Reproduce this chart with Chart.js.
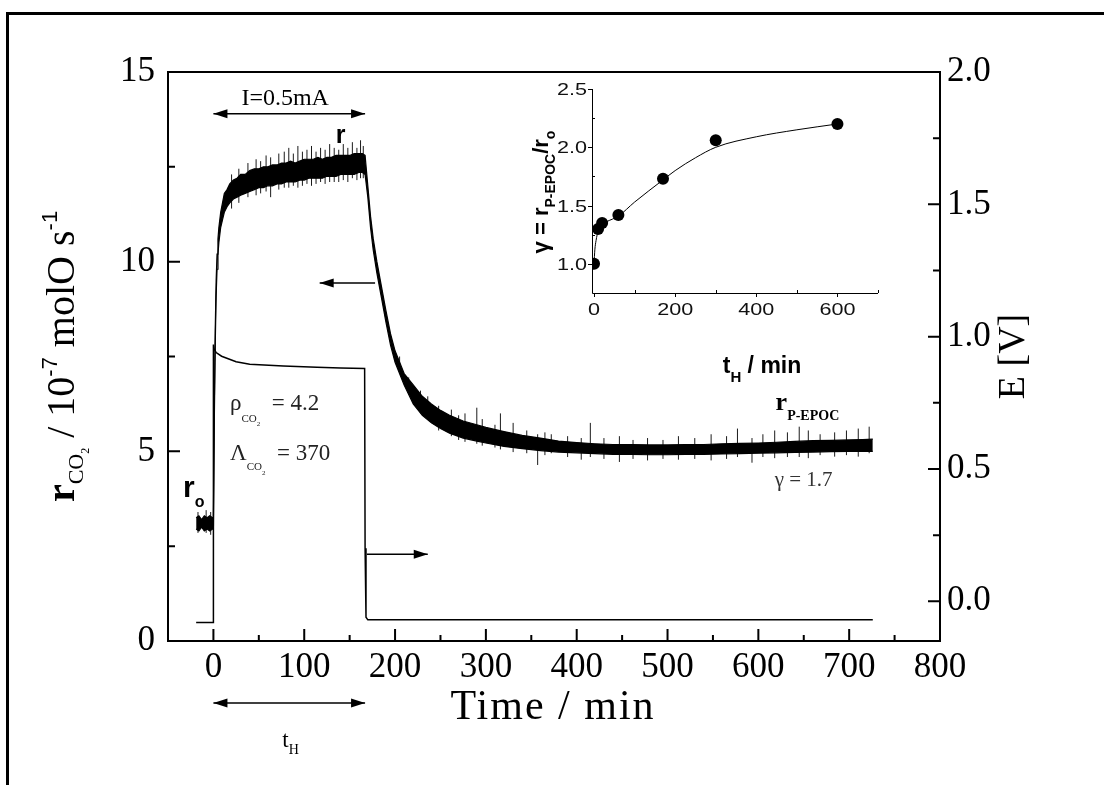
<!DOCTYPE html>
<html><head><meta charset="utf-8">
<script src="https://cdn.jsdelivr.net/npm/chart.js@4.4.0/dist/chart.umd.min.js"></script>
<style>
html,body{margin:0;padding:0;background:#fff;}
#wrap{position:relative;width:1104px;height:785px;overflow:hidden;background:#fff;}
#frame{position:absolute;left:6px;top:12px;width:2000px;height:2000px;border-top:3px solid #000;border-left:3px solid #000;}
#main{position:absolute;left:0;top:0;}
#inset{position:absolute;left:520px;top:70px;}
</style></head><body>
<div id="wrap"><div id="frame"></div>
<canvas id="main" width="1104" height="785"></canvas>
<canvas id="inset" width="380" height="320"></canvas>
</div>
<script>
// ---------- data ----------
const xTicks = [0,100,200,300,400,500,600,700,800];
const xMinor = [50,150,250,350,450,550,650,750];
const rTicks = [0,5,10,15];
const rMinor = [2.5,7.5,12.5];
const eTicks = [0,0.5,1.0,1.5,2.0];
const eMinor = [0.25,0.75,1.25,1.75];

// r_CO2 trace: core noise band (upper / lower envelope)
const tTime  = [-19,-16,-13,-10,-7,-4,-1,0,1,2,3,4,5,6,8,10,12,15,18,22,26,30,35,40,45,50,55,60,65,70,75,80,85,90,95,100,105,110,115,120,125,130,135,140,145,150,155,160,164,167,170,173,176,180,185,190,195,200,210,220,230,240,250,260,275,290,300,320,340,360,380,400,420,440,460,480,500,520,540,560,580,600,620,640,660,680,700,715,726];
const rUpper = [3.25,3.3,3.2,3.3,3.25,3.3,3.25,3.25,6.2,8.2,9.5,10.2,10.6,10.9,11.3,11.55,11.8,11.9,12.05,12.15,12.2,12.3,12.3,12.4,12.45,12.45,12.5,12.5,12.55,12.55,12.6,12.6,12.65,12.6,12.65,12.7,12.7,12.7,12.75,12.7,12.75,12.75,12.8,12.8,12.8,12.8,12.85,12.85,12.85,12.8,12.0,11.2,10.6,10.0,9.35,8.7,8.1,7.65,7.05,6.75,6.45,6.25,6.08,5.95,5.8,5.7,5.63,5.52,5.42,5.35,5.27,5.23,5.2,5.18,5.18,5.17,5.17,5.18,5.18,5.2,5.21,5.22,5.24,5.26,5.28,5.29,5.3,5.31,5.32];
const rLower = [2.95,2.9,3.0,2.9,2.95,2.9,2.95,2.95,5.8,7.8,9.1,9.8,10.2,10.5,10.9,11.1,11.3,11.45,11.55,11.65,11.7,11.75,11.8,11.85,11.9,11.95,11.95,12.0,12.0,12.05,12.05,12.1,12.1,12.1,12.15,12.15,12.2,12.2,12.2,12.2,12.25,12.25,12.25,12.3,12.3,12.3,12.3,12.35,12.35,12.3,11.7,10.9,10.3,9.7,9.05,8.4,7.8,7.35,6.75,6.25,5.95,5.75,5.6,5.48,5.35,5.27,5.22,5.13,5.07,5.02,4.98,4.96,4.94,4.92,4.92,4.91,4.91,4.92,4.92,4.93,4.94,4.95,4.96,4.97,4.98,4.99,5.0,5.0,5.0];
// r_CO2 trace: individual noise spikes (time, top, bottom)
const spikeTime = [-17,-8,-3,20,28,38,47,52,58,63,72,78,83,88,93,98,103,108,113,118,123,128,133,138,143,148,153,158,162,165,205,215,228,236,248,262,270,277,290,296,310,316,330,345,357,365,372,390,405,415,430,447,462,478,495,512,530,548,565,577,593,605,618,632,645,655,668,684,697,710,722];
const spikeTop  = [3.4,3.45,3.4,12.3,12.45,12.6,12.7,12.65,12.8,12.75,12.85,12.9,13.0,12.85,13.05,12.9,12.95,13.05,12.9,13.0,12.95,13.1,13.0,12.95,13.1,13.0,13.15,13.0,13.2,13.05,7.5,6.95,6.6,6.45,6.2,6.1,5.95,6.0,6.15,5.85,5.7,6.0,5.75,5.55,5.45,5.5,5.45,5.4,5.35,5.75,5.35,5.4,5.3,5.35,5.3,5.4,5.35,5.45,5.4,5.6,5.35,5.45,5.55,5.5,5.65,5.55,5.45,5.5,5.55,5.6,5.65];
const spikeBot  = [2.85,2.85,2.8,11.4,11.55,11.7,11.75,11.8,11.85,11.7,11.9,11.95,11.95,12.0,11.95,12.0,12.05,12.0,12.05,12.1,12.05,12.1,12.1,12.1,12.15,12.1,12.2,12.15,12.2,12.2,7.1,6.5,6.0,5.85,5.55,5.4,5.3,5.25,5.2,5.15,5.1,5.05,4.98,4.95,4.64,4.9,4.95,4.85,4.78,4.85,4.8,4.72,4.8,4.76,4.8,4.78,4.8,4.76,4.8,4.85,4.7,4.85,4.82,4.85,4.85,4.82,4.9,4.86,4.9,4.86,4.95];

// cell potential E trace
const eTime = [-19,0,0,0.7,3,9,25,40,77,114,140,166.5,167,168,170,726];
const eVolt = [-0.08,-0.08,0.97,0.955,0.94,0.926,0.905,0.896,0.889,0.884,0.882,0.88,0.2,-0.06,-0.07,-0.07];

// inset: gamma vs t_H
const gTime = [0,10,20,60,170,300,600];
const gVal  = [1.0,1.3,1.35,1.42,1.73,2.06,2.2];
const fitTime = [0,2,5,10,20,30,60,100,170,200,250,300,400,500,600];
const fitVal  = [1.0,1.12,1.2,1.28,1.34,1.36,1.41,1.53,1.72,1.80,1.91,2.0,2.09,2.15,2.2];
const insXTicks = [0,200,400,600];
const insXMinor = [100,300,500,700];
const insYTicks = [1.0,1.5,2.0,2.5];
const insYMinor = [1.25,1.75,2.25];

// ---------- helpers ----------
const SERIF = '"Liberation Serif", "Times New Roman", serif';
const SANS = '"Liberation Sans", Arial, sans-serif';
function rich(ctx, parts, x, y, align, rot, sx){
  ctx.save(); ctx.translate(x,y); if(rot) ctx.rotate(rot); if(sx) ctx.scale(sx,1);
  let w=0; parts.forEach(p=>{ctx.font=p[1]; w+=ctx.measureText(p[0]).width;});
  let cx = align==='center' ? -w/2 : (align==='right' ? -w : 0);
  ctx.textAlign='left'; ctx.textBaseline='alphabetic';
  parts.forEach(p=>{ctx.font=p[1]; ctx.fillStyle=p[3]||'#000'; ctx.fillText(p[0], cx, p[2]||0); cx+=ctx.measureText(p[0]).width;});
  ctx.restore();
}
function arrowHead(ctx, x, y, dir, len, hw){
  ctx.beginPath(); ctx.moveTo(x,y); ctx.lineTo(x-dir*len, y-hw); ctx.lineTo(x-dir*len, y+hw); ctx.closePath(); ctx.fill();
}
function hArrow(ctx, x1, x2, y, both){
  ctx.save(); ctx.strokeStyle='#000'; ctx.fillStyle='#000'; ctx.lineWidth=1.5;
  ctx.beginPath(); ctx.moveTo(x1,y); ctx.lineTo(x2,y); ctx.stroke();
  const dir = x2>x1 ? 1 : -1;
  arrowHead(ctx, x2, y, dir, 14, 4.5);
  if(both) arrowHead(ctx, x1, y, -dir, 14, 4.5);
  ctx.restore();
}
const spikeData = [];
spikeTime.forEach((t,i)=>{ spikeData.push({x:t,y:spikeBot[i]},{x:t,y:spikeTop[i]},{x:t,y:null}); });

// ---------- main chart ----------
const mainPlugin = {
  id:'mainDeco',
  afterDatasetsDraw(chart){
    const ctx = chart.ctx, a = chart.chartArea;
    const X = chart.scales.x, R = chart.scales.yR, E = chart.scales.yE;
    ctx.save();
    ctx.strokeStyle='#000'; ctx.lineWidth=2;
    ctx.strokeRect(a.left, a.top, a.right-a.left, a.bottom-a.top);
    ctx.beginPath();
    xTicks.forEach(v=>{const p=X.getPixelForValue(v); ctx.moveTo(p,a.bottom); ctx.lineTo(p,a.bottom-12);});
    xMinor.forEach(v=>{const p=X.getPixelForValue(v); ctx.moveTo(p,a.bottom); ctx.lineTo(p,a.bottom-6);});
    rTicks.forEach(v=>{const p=R.getPixelForValue(v); ctx.moveTo(a.left,p); ctx.lineTo(a.left+12,p);});
    rMinor.forEach(v=>{const p=R.getPixelForValue(v); ctx.moveTo(a.left,p); ctx.lineTo(a.left+7,p);});
    eTicks.forEach(v=>{const p=E.getPixelForValue(v); ctx.moveTo(a.right,p); ctx.lineTo(a.right-12,p);});
    eMinor.forEach(v=>{const p=E.getPixelForValue(v); ctx.moveTo(a.right,p); ctx.lineTo(a.right-7,p);});
    ctx.stroke();

    // arrows
    hArrow(ctx, X.getPixelForValue(0), X.getPixelForValue(167), R.getPixelForValue(13.9), true);
    hArrow(ctx, X.getPixelForValue(178), X.getPixelForValue(117), R.getPixelForValue(9.44), false);
    hArrow(ctx, X.getPixelForValue(169), X.getPixelForValue(236), E.getPixelForValue(0.178), false);
    hArrow(ctx, X.getPixelForValue(0), X.getPixelForValue(167), a.bottom+62, true);

    // annotations
    rich(ctx, [['I=0.5mA', '24px '+SERIF]], X.getPixelForValue(79), R.getPixelForValue(14.13), 'center');
    rich(ctx, [['r', 'bold 25px '+SANS]], X.getPixelForValue(140), R.getPixelForValue(13.13), 'center');
    rich(ctx, [['\u03C1','23px '+SERIF,0,'#222'],['CO','11px '+SERIF,12,'#222'],['2','7px '+SERIF,16,'#222'],['  = 4.2','23px '+SERIF,0,'#222']], X.getPixelForValue(18.3), R.getPixelForValue(6.09), 'left');
    rich(ctx, [['\u039B','23px '+SERIF,0,'#222'],['CO','11px '+SERIF,10,'#222'],['2','7px '+SERIF,15,'#222'],['  = 370','23px '+SERIF,0,'#222']], X.getPixelForValue(18.3), R.getPixelForValue(4.77), 'left');
    rich(ctx, [['r','bold 30px '+SANS],['o','bold 16px '+SANS,10]], X.getPixelForValue(-33.5), R.getPixelForValue(3.80), 'left');
    rich(ctx, [['r','bold 26px '+SERIF],['P-EPOC','bold 14px '+SERIF,10]], X.getPixelForValue(619), R.getPixelForValue(6.1), 'left');
    rich(ctx, [['\u03B3 = 1.7','21px '+SERIF,0,'#333']], X.getPixelForValue(618), R.getPixelForValue(4.08), 'left');
    rich(ctx, [['t','23px '+SERIF],['H','14px '+SERIF,7]], X.getPixelForValue(85), a.bottom+106, 'center');

    // axis titles
    ctx.save(); ctx.letterSpacing = '2px';
    rich(ctx, [['Time / min','42px '+SERIF]], (a.left+a.right)/2-1, a.bottom+78, 'center');
    ctx.restore();
    rich(ctx, [['r','bold 40px '+SERIF],['CO','22px '+SERIF,9],['2','12px '+SERIF,15],[' / 10','40px '+SERIF],['-7','22px '+SANS,-17],[' molO s','40px '+SERIF],['-1','22px '+SANS,-17]], 74, (a.top+a.bottom)/2, 'center', -Math.PI/2);
    rich(ctx, [['E [V]','38px '+SERIF]], 1024, (a.top+a.bottom)/2, 'center', -Math.PI/2);
    ctx.restore();
  }
};

new Chart(document.getElementById('main'), {
  type:'line',
  data:{datasets:[
    {label:'r CO2 lower', data:tTime.map((t,i)=>({x:t,y:rLower[i]})), yAxisID:'yR', borderColor:'#000', borderWidth:1.2, pointRadius:0, fill:false},
    {label:'r CO2', data:tTime.map((t,i)=>({x:t,y:rUpper[i]})), yAxisID:'yR', borderColor:'#000', backgroundColor:'#000', borderWidth:1.2, pointRadius:0, fill:'-1'},
    {label:'r CO2 spikes', data:spikeData, yAxisID:'yR', borderColor:'#000', borderWidth:0.9, pointRadius:0, fill:false, spanGaps:false},
    {label:'E', data:eTime.map((t,i)=>({x:t,y:eVolt[i]})), yAxisID:'yE', borderColor:'#000', borderWidth:1.5, pointRadius:0, fill:false}
  ]},
  options:{
    responsive:false, animation:false, devicePixelRatio:1,
    layout:{padding:{top:72,left:0,right:0,bottom:0}},
    plugins:{legend:{display:false}, tooltip:{enabled:false}},
    scales:{
      x:{type:'linear', min:-50, max:800,
        afterBuildTicks:s=>{s.ticks = xTicks.map(v=>({value:v}));},
        afterFit:s=>{s.height = 144;},
        grid:{display:false, drawTicks:false}, border:{display:false},
        ticks:{font:{family:SERIF, size:35}, color:'#000', padding:6, maxRotation:0, autoSkip:false}},
      yR:{type:'linear', position:'left', min:0, max:15,
        afterBuildTicks:s=>{s.ticks = rTicks.map(v=>({value:v}));},
        afterFit:s=>{s.width = 168;},
        grid:{display:false, drawTicks:false}, border:{display:false},
        ticks:{font:{family:SERIF, size:35}, color:'#000', padding:13}},
      yE:{type:'linear', position:'right', min:-0.15, max:2.0,
        afterBuildTicks:s=>{s.ticks = eTicks.map(v=>({value:v}));},
        afterFit:s=>{s.width = 164;},
        grid:{display:false, drawTicks:false}, border:{display:false},
        ticks:{font:{family:SERIF, size:35}, color:'#000', padding:7, callback:v=>Number(v).toFixed(1)}}
    }
  },
  plugins:[mainPlugin]
});

// ---------- inset chart ----------
const insetPlugin = {
  id:'insetDeco',
  afterDatasetsDraw(chart){
    const ctx = chart.ctx, a = chart.chartArea;
    const X = chart.scales.x, Y = chart.scales.y;
    ctx.save(); ctx.strokeStyle='#000'; ctx.lineWidth=1;
    ctx.beginPath();
    ctx.moveTo(a.left+0.5, a.top); ctx.lineTo(a.left+0.5, a.bottom+0.5); ctx.lineTo(a.right, a.bottom+0.5);
    insXTicks.forEach(v=>{const p=Math.round(X.getPixelForValue(v))+0.5; ctx.moveTo(p,a.bottom); ctx.lineTo(p,a.bottom+4);});
    insXMinor.forEach(v=>{const p=Math.round(X.getPixelForValue(v))+0.5; ctx.moveTo(p,a.bottom); ctx.lineTo(p,a.bottom-3);});
    insYTicks.forEach(v=>{const p=Math.round(Y.getPixelForValue(v))+0.5; ctx.moveTo(a.left,p); ctx.lineTo(a.left-4,p);});
    insYMinor.forEach(v=>{const p=Math.round(Y.getPixelForValue(v))+0.5; ctx.moveTo(a.left,p); ctx.lineTo(a.left+3,p);});
    ctx.stroke();
    // tick labels (horizontally widened like the reference)
    insXTicks.forEach(v=>{ rich(ctx, [[String(v),'16px '+SANS,0,'#111']], X.getPixelForValue(v), a.bottom+22, 'center', 0, 1.35); });
    insYTicks.forEach(v=>{ rich(ctx, [[v.toFixed(1),'16px '+SANS,0,'#111']], a.left-5, Y.getPixelForValue(v)+6, 'right', 0, 1.35); });
    rich(ctx, [['t','bold 23px '+SANS],['H','bold 15px '+SANS,9],[' / min','bold 23px '+SANS]], 242, 303, 'center');
    rich(ctx, [['\u03B3 = r','bold 22px '+SANS],['P-EPOC','bold 14px '+SANS,7],['/r','bold 22px '+SANS],['o','bold 14px '+SANS,7]], 28, (a.top+a.bottom)/2+1, 'center', -Math.PI/2);
    ctx.restore();
  }
};
new Chart(document.getElementById('inset'), {
  type:'line',
  data:{datasets:[
    {label:'fit', data:fitTime.map((t,i)=>({x:t,y:fitVal[i]})), borderColor:'#000', borderWidth:1, pointRadius:0, cubicInterpolationMode:'monotone', fill:false},
    {label:'gamma', data:gTime.map((t,i)=>({x:t,y:gVal[i]})), showLine:false, pointRadius:6, pointBackgroundColor:'#000', pointBorderColor:'#000', borderWidth:0}
  ]},
  options:{
    responsive:false, animation:false, devicePixelRatio:1,
    layout:{padding:{top:19,left:0,right:22,bottom:0}},
    plugins:{legend:{display:false}, tooltip:{enabled:false}},
    scales:{
      x:{type:'linear', min:-5, max:700,
        afterBuildTicks:s=>{s.ticks = insXTicks.map(v=>({value:v}));},
        afterFit:s=>{s.height = 97;},
        grid:{display:false, drawTicks:false}, border:{display:false},
        ticks:{display:false}},
      y:{type:'linear', min:0.75, max:2.5,
        afterBuildTicks:s=>{s.ticks = insYTicks.map(v=>({value:v}));},
        afterFit:s=>{s.width = 72;},
        grid:{display:false, drawTicks:false}, border:{display:false},
        ticks:{display:false}}
    }
  },
  plugins:[insetPlugin]
});
</script>
</body></html>
